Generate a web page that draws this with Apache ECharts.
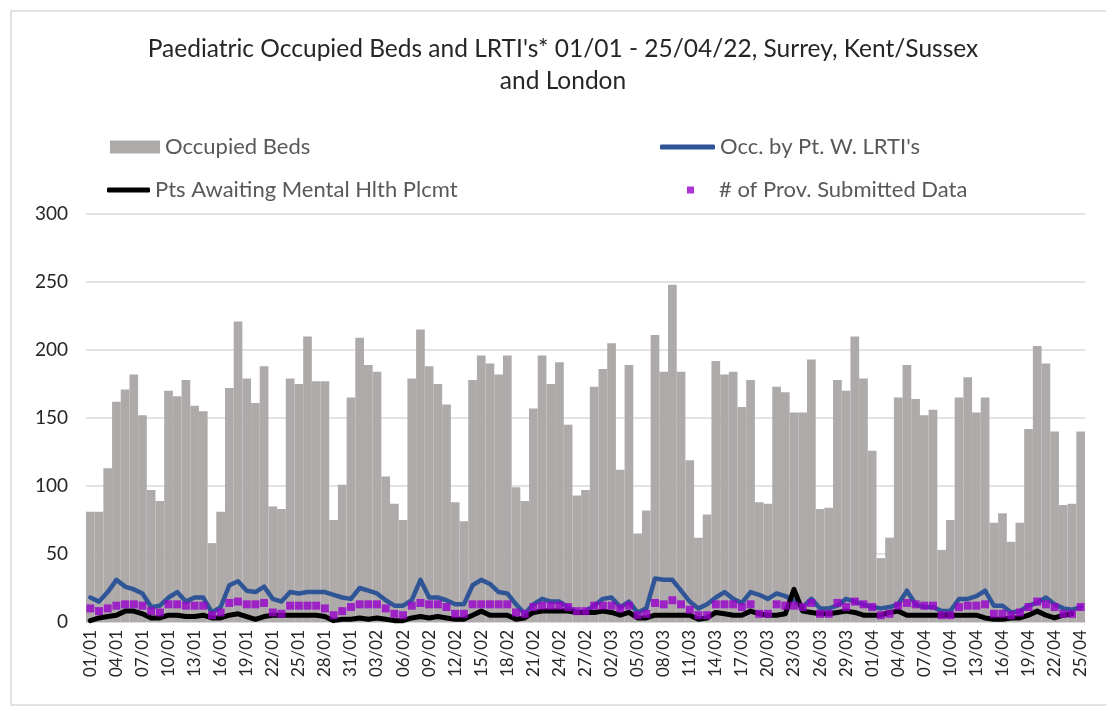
<!DOCTYPE html>
<html>
<head>
<meta charset="utf-8">
<title>Paediatric Occupied Beds</title>
<script src="https://cdn.jsdelivr.net/npm/echarts@6/dist/echarts.min.js"></script>
<style>
  html, body { margin: 0; padding: 0; background: #fff; }
  #chart { width: 1106px; height: 708px; }
</style>
</head>
<body>
<div id="chart"></div>
<script>
// daily values 01/01 - 25/04/22
const startDate = new Date(2022, 0, 1)
const dayCount = 115
const dates = []
for (let i = 0; i < dayCount; i++) {
  const d = new Date(startDate.getTime() + i * 86400000)
  dates.push(String(d.getDate()).padStart(2, '0') + '/' + String(d.getMonth() + 1).padStart(2, '0'))
}

const occupiedBeds = [
  81, 81, 113, 162, 171, 182, 152, 97, 89, 170, 166, 178, 159, 155, 58, 81, 172, 221, 179, 161, 188, 85, 83,
  179, 175, 210, 177, 177, 75, 101, 165, 209, 189, 184, 107, 87, 75, 179, 215, 188, 175, 160, 88, 74,
  178, 196, 190, 182, 196, 99, 89, 157, 196, 175, 191, 145, 93, 97, 173, 186, 205, 112, 189, 65, 82,
  211, 184, 248, 184, 119, 62, 79, 192, 182, 184, 158, 178, 88, 87, 173, 169, 154, 154, 193, 83,
  84, 178, 170, 210, 179, 126, 47, 62, 165, 189, 164, 152, 156, 53, 75, 165, 180, 154, 165, 73,
  80, 59, 73, 142, 203, 190, 140, 86, 87, 140
]
const lrtiBeds = [
  18, 15, 22, 31, 26, 24, 21, 11, 12, 18, 22, 15, 18, 18, 7, 11, 27, 30, 23, 22, 26, 17, 15,
  22, 21, 22, 22, 22, 20, 18, 17, 25, 23, 21, 16, 12, 12, 16, 31, 18, 18, 16, 13, 13,
  27, 31, 28, 22, 21, 13, 6, 13, 17, 15, 15, 11, 7, 8, 12, 17, 18, 11, 15, 7, 10,
  32, 31, 31, 23, 15, 10, 13, 18, 22, 17, 14, 22, 20, 17, 21, 19, 16, 11, 17, 10,
  10, 12, 17, 15, 13, 11, 10, 11, 13, 23, 13, 11, 11, 8, 8, 17, 17, 19, 23, 12,
  12, 7, 8, 12, 14, 18, 13, 10, 9, 11
]
const mentalHealth = [
  1, 3, 4, 5, 8, 8, 6, 3, 3, 5, 5, 4, 4, 5, 3, 3, 5, 6, 4, 2, 4, 5, 5,
  5, 5, 5, 5, 4, 1, 2, 2, 3, 2, 3, 2, 1, 1, 3, 4, 3, 4, 3, 2, 2,
  5, 8, 5, 5, 5, 2, 3, 7, 8, 8, 8, 8, 7, 7, 7, 8, 7, 5, 7, 3, 3,
  5, 5, 5, 5, 5, 2, 3, 7, 6, 5, 5, 8, 6, 5, 5, 6, 24, 8, 7, 6,
  6, 7, 8, 7, 5, 5, 5, 7, 8, 5, 5, 5, 5, 5, 5, 5, 5, 5, 3,
  2, 2, 3, 3, 5, 8, 5, 3, 5, 6
]
const providers = [
  10, 8, 10, 12, 13, 13, 12, 8, 7, 13, 13, 12, 12, 12, 5, 7, 14, 15, 13, 13, 14, 7, 6,
  12, 12, 12, 12, 10, 5, 8, 11, 13, 13, 13, 10, 6, 5, 12, 14, 13, 13, 11, 6, 6,
  13, 13, 13, 13, 13, 7, 6, 11, 12, 12, 12, 11, 8, 8, 12, 12, 12, 10, 12, 5, 6,
  14, 13, 16, 13, 9, 5, 5, 13, 13, 13, 11, 13, 6, 6, 13, 12, 12, 11, 14, 6,
  6, 14, 11, 15, 13, 11, 5, 6, 12, 14, 13, 12, 12, 5, 5, 11, 12, 12, 13, 6,
  6, 5, 7, 11, 15, 13, 11, 6, 6, 11
]
const yTicks = { min: 0, max: 300, step: 50 }

const chart = echarts.init(document.getElementById('chart'), null, { renderer: 'canvas' })

const font = 'Lato, "Open Sans", sans-serif'
const legendText = { color: '#595959', fontSize: 22, fontFamily: font }

const option = {
  backgroundColor: '#fff',
  animation: false,
  title: {
    text: "Paediatric Occupied Beds and LRTI's* 01/01 - 25/04/22, Surrey, Kent/Sussex\nand London",
    left: 558,
    top: 28,
    textAlign: 'center',
    textStyle: {
      color: '#262626',
      fontSize: 24.5,
      fontWeight: 'normal',
      fontFamily: font,
      lineHeight: 32
    }
  },
  // border of the chart area
  graphic: [{
    type: 'rect',
    shape: { x: 11, y: 11, width: 1120, height: 694 },
    style: { fill: 'none', stroke: '#d9d9d9', lineWidth: 1.5 },
    silent: true
  }],
  legend: [
    {
      data: [{ name: 'Occupied Beds', icon: 'rect' }],
      left: 110, top: 136, padding: 0,
      itemWidth: 50, itemHeight: 13,
      textStyle: legendText
    },
    {
      data: [{ name: "Occ. by Pt. W. LRTI's", icon: 'roundRect' }],
      left: 660, top: 136, padding: 0,
      itemWidth: 55, itemHeight: 5,
      textStyle: legendText
    },
    {
      data: [{ name: 'Pts Awaiting Mental Hlth Plcmt', icon: 'roundRect' }],
      left: 107, top: 179, padding: 0,
      itemWidth: 43, itemHeight: 5,
      textStyle: legendText
    },
    {
      data: [{ name: '# of Prov. Submitted Data', icon: 'rect' }],
      left: 687, top: 179, padding: 0,
      itemWidth: 7, itemHeight: 7,
      textStyle: Object.assign({ padding: [0, 0, 0, 20] }, legendText)
    }
  ],
  grid: { left: 86, right: 21, top: 214, bottom: 86 },
  xAxis: {
    type: 'category',
    data: dates,
    axisLine: { show: true, lineStyle: { color: '#d9d9d9' } },
    axisTick: { show: false },
    axisLabel: {
      interval: 2,
      rotate: 90,
      margin: 8,
      color: '#262626',
      fontSize: 17,
      fontFamily: font
    }
  },
  yAxis: {
    type: 'value',
    min: yTicks.min,
    max: yTicks.max,
    interval: yTicks.step,
    axisLine: { show: false },
    axisTick: { show: false },
    splitLine: { lineStyle: { color: '#d9d9d9', width: 1.5 } },
    axisLabel: { color: '#262626', fontSize: 19, margin: 18, fontFamily: font }
  },
  series: [
    {
      name: 'Occupied Beds',
      type: 'bar',
      data: occupiedBeds,
      barCategoryGap: 0,
      itemStyle: { color: '#AEAAAA' }
    },
    {
      name: "Occ. by Pt. W. LRTI's",
      type: 'line',
      data: lrtiBeds,
      symbol: 'none',
      itemStyle: { color: '#2F5597' },
      lineStyle: { color: '#2F5597', width: 4.5, cap: 'round', join: 'round' }
    },
    {
      name: 'Pts Awaiting Mental Hlth Plcmt',
      type: 'line',
      data: mentalHealth,
      symbol: 'none',
      itemStyle: { color: '#000' },
      lineStyle: { color: '#000', width: 5, cap: 'round', join: 'round' }
    },
    {
      name: '# of Prov. Submitted Data',
      type: 'scatter',
      data: providers,
      symbol: 'rect',
      symbolSize: 8,
      itemStyle: { color: '#9900CC' },
      z: 5
    }
  ]
}

chart.setOption(option)
</script>
</body>
</html>
